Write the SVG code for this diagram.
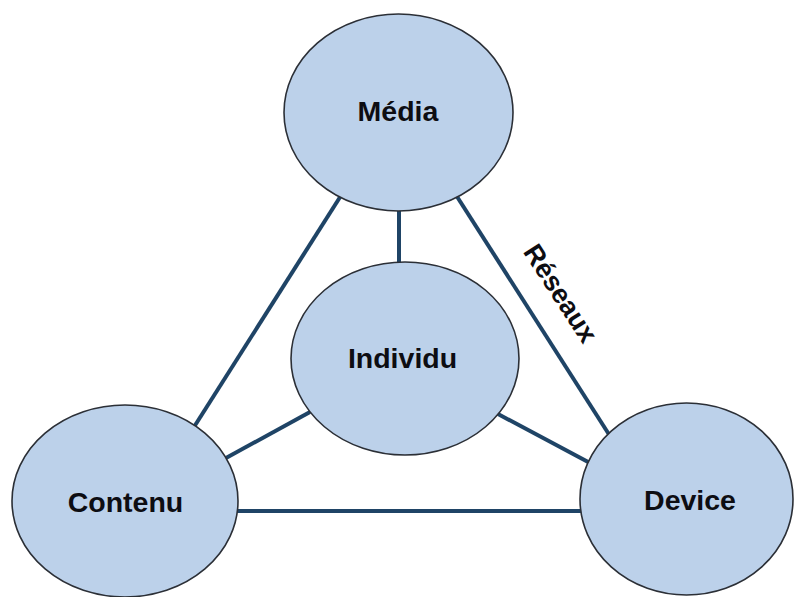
<svg xmlns="http://www.w3.org/2000/svg" width="794" height="597" viewBox="0 0 794 597">
  <style>
    .node { fill: #bcd1ea; stroke: #2b2f36; stroke-width: 1.6; }
    .label { font-family: "Liberation Sans", Arial, sans-serif; font-weight: bold; font-size: 28.5px; fill: #0d0d12; text-anchor: middle; }
    .link { stroke: #1f4466; stroke-width: 4; stroke-linecap: butt; fill: none; }
    .edge-label { font-family: "Liberation Sans", Arial, sans-serif; font-weight: bold; font-size: 27px; fill: #0d0d12; text-anchor: middle; }
  </style>
  <rect width="794" height="597" fill="#ffffff"/>

  <!-- connectors -->
  <g id="connectors">
    <line class="link" x1="342" y1="194" x2="194" y2="427"/>
    <line class="link" x1="399" y1="210" x2="399" y2="263"/>
    <line class="link" x1="456" y1="195" x2="610" y2="436"/>
    <line class="link" x1="310" y1="412" x2="226" y2="458"/>
    <line class="link" x1="498" y1="414" x2="590" y2="463"/>
    <line class="link" x1="237" y1="511" x2="582" y2="511"/>
    <text class="edge-label" transform="translate(561,293) rotate(57)" x="0" y="9.7">Réseaux</text>
  </g>

  <g id="media">
    <ellipse class="node" cx="398.5" cy="112.5" rx="114.5" ry="98.5"/>
    <text class="label" x="398" y="121">Média</text>
  </g>

  <g id="individu">
    <ellipse class="node" cx="405" cy="358.5" rx="114" ry="96.5"/>
    <text class="label" x="402.5" y="368">Individu</text>
  </g>

  <g id="contenu">
    <ellipse class="node" cx="125" cy="501" rx="113" ry="96"/>
    <text class="label" x="125.5" y="512">Contenu</text>
  </g>

  <g id="device">
    <ellipse class="node" cx="686.5" cy="499" rx="106.5" ry="96"/>
    <text class="label" x="690" y="510">Device</text>
  </g>
</svg>
